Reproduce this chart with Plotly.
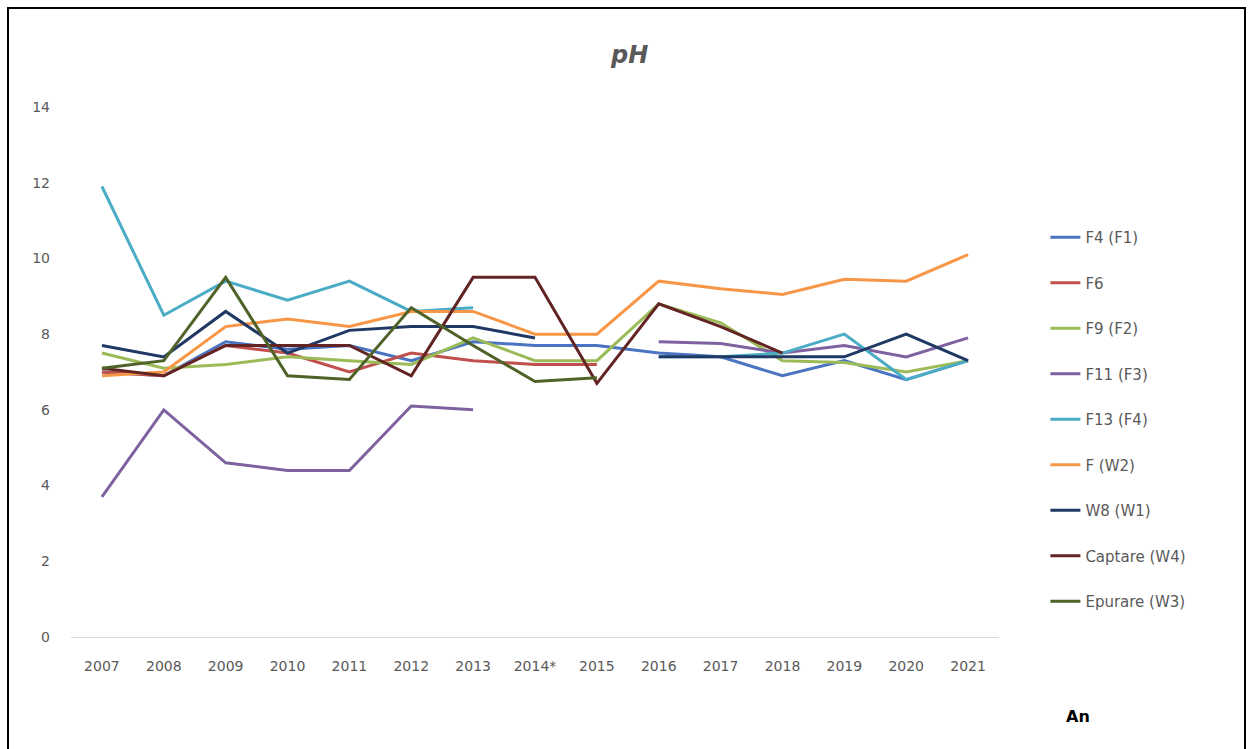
import plotly.graph_objects as go

years = ["2007", "2008", "2009", "2010", "2011", "2012", "2013", "2014*",
         "2015", "2016", "2017", "2018", "2019", "2020", "2021"]

f4_f1 = [7.0, 6.9, 7.8, 7.6, 7.7, 7.3, 7.8, 7.7, 7.7, 7.5, 7.4, 6.9, 7.3, 6.8, 7.3]
f6 = [7.0, 6.9, 7.7, 7.5, 7.0, 7.5, 7.3, 7.2, 7.2, None, None, None, None, None, None]
f9_f2 = [7.5, 7.1, 7.2, 7.4, 7.3, 7.2, 7.9, 7.3, 7.3, 8.8, 8.3, 7.3, 7.25, 7.0, 7.3]
f11_f3 = [3.7, 6.0, 4.6, 4.4, 4.4, 6.1, 6.0, None, None, 7.8, 7.75, 7.5, 7.7, 7.4, 7.9]
f13_f4 = [11.9, 8.5, 9.4, 8.9, 9.4, 8.6, 8.7, None, None, 7.4, 7.4, 7.5, 8.0, 6.8, 7.3]
f_w2 = [6.9, 7.0, 8.2, 8.4, 8.2, 8.6, 8.6, 8.0, 8.0, 9.4, 9.2, 9.05, 9.45, 9.4, 10.1]
w8_w1 = [7.7, 7.4, 8.6, 7.5, 8.1, 8.2, 8.2, 7.9, None, 7.4, 7.4, 7.4, 7.4, 8.0, 7.3]
captare_w4 = [7.1, 6.9, 7.7, 7.7, 7.7, 6.9, 9.5, 9.5, 6.7, 8.8, 8.2, 7.5, None, None, None]
epurare_w3 = [7.1, 7.3, 9.5, 6.9, 6.8, 8.7, 7.7, 6.75, 6.85, None, None, None, None, None, None]

series = [
    ("F4 (F1)", f4_f1, "#4A74C2"),
    ("F6", f6, "#C0504D"),
    ("F9 (F2)", f9_f2, "#9BBB59"),
    ("F11 (F3)", f11_f3, "#7E62A0"),
    ("F13 (F4)", f13_f4, "#4BACC6"),
    ("F (W2)", f_w2, "#F79646"),
    ("W8 (W1)", w8_w1, "#1F3864"),
    ("Captare (W4)", captare_w4, "#632523"),
    ("Epurare (W3)", epurare_w3, "#4F6228"),
]

fig = go.Figure()
for i, (name, vals, col) in enumerate(series):
    fig.add_trace(go.Scatter(
        x=years, y=vals, name=name, mode="lines",
        line=dict(color=col, width=3), connectgaps=False,
        legendgroup="g%d" % i,
    ))

font_family = "DejaVu Sans, sans-serif"

fig.update_layout(
    width=1253, height=749,
    margin=dict(l=71, r=254, t=107, b=112),
    paper_bgcolor="white", plot_bgcolor="white",
    font=dict(family=font_family, color="#595959", size=14),
    title=dict(text="<b><i>pH</i></b>", x=0.602, xref="paper", xanchor="center",
               y=1 - 55 / 749, yanchor="middle",
               font=dict(size=24, color="#595959", family=font_family)),
    showlegend=True,
    legend=dict(x=1.05, y=0.785, xanchor="left", yanchor="top",
                font=dict(size=15, color="#595959", family=font_family),
                tracegroupgap=23, bgcolor="rgba(0,0,0,0)"),
    xaxis=dict(type="category", range=[-0.5, 14.5], showgrid=False,
               showline=True, linecolor="#D9D9D9", linewidth=1,
               ticks="", tickfont=dict(size=14, color="#595959"),
               ticklabelstandoff=16, zeroline=False),
    yaxis=dict(range=[0, 14], dtick=2, showgrid=False, zeroline=False,
               showline=False, ticks="", ticklabelstandoff=20,
               tickfont=dict(size=14, color="#595959")),
)

fig.add_annotation(text="<b>An</b>", xref="paper", yref="paper",
                   x=(1078 - 71) / 928, y=(637 - 716) / 530,
                   xanchor="center", yanchor="middle", showarrow=False,
                   font=dict(size=16, color="black", family=font_family))

fig.add_shape(type="rect", xref="paper", yref="paper",
              x0=(8 - 71) / 928, x1=(1245 - 71) / 928,
              y0=(637 - 760) / 530, y1=(637 - 8) / 530,
              line=dict(color="black", width=2), fillcolor="rgba(0,0,0,0)",
              layer="below")

fig.write_html("out.html")
